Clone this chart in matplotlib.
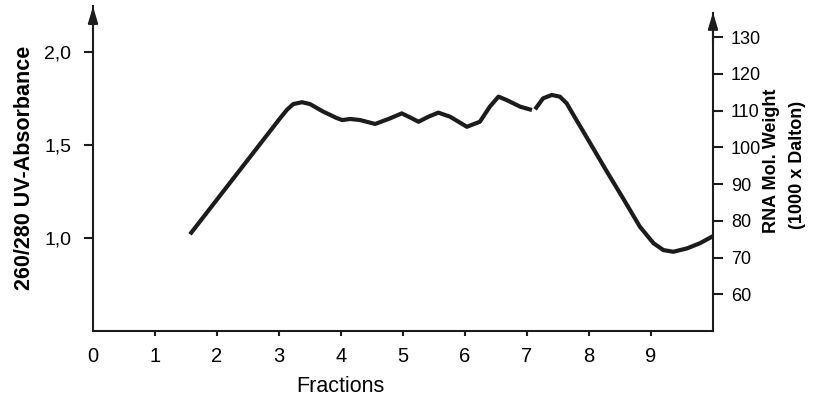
import numpy as np
import matplotlib
matplotlib.use('Agg')
import matplotlib.pyplot as plt

plt.rcParams['font.family'] = ['Liberation Sans', 'DejaVu Sans']

# curve (fraction, 260/280 absorbance); nan = gap in the line
fractions = [1.565, 3.02, 3.13, 3.23, 3.37, 3.50, 3.71, 3.93, 4.02, 4.15, 4.31,
             4.55, 4.79, 4.98, 5.11, 5.25, 5.41, 5.57, 5.76, 6.03, 6.24, 6.40,
             6.54, 6.67, 6.89, 7.08, np.nan,
             7.13, 7.26, 7.40, 7.53, 7.64, 7.75, 8.02, 8.29, 8.55, 8.82, 9.04,
             9.20, 9.36, 9.58, 9.79, 10.0]
absorbance = [1.02, 1.645, 1.69, 1.72, 1.73, 1.72, 1.68, 1.645, 1.634, 1.64, 1.634,
              1.613, 1.643, 1.67, 1.649, 1.625, 1.652, 1.674, 1.652, 1.598, 1.625, 1.706,
              1.76, 1.742, 1.706, 1.688, np.nan,
              1.692, 1.751, 1.769, 1.76, 1.724, 1.661, 1.509, 1.356, 1.213, 1.061, 0.972,
              0.935, 0.926, 0.944, 0.972, 1.01]

x_ticks = [0, 1, 2, 3, 4, 5, 6, 7, 8, 9]
left_ticks = [1.0, 1.5, 2.0]
left_labels = ['1,0', '1,5', '2,0']
right_ticks = [60, 70, 80, 90, 100, 110, 120, 130]

ink = '#1c1c1c'

fig = plt.figure(figsize=(8.15, 4.01), dpi=100)
ax = fig.add_axes([93 / 815, 70 / 401, 620 / 815, 325.5 / 401])
ax2 = ax.twinx()

ax.plot(fractions, absorbance, color=ink, lw=3.0, solid_capstyle='butt',
        solid_joinstyle='round')

ax.set_xlim(0, 10)
ax.set_ylim(0.5, 2.25)
ax2.set_ylim(50, 138.6)

for s in ['top', 'right']:
    ax.spines[s].set_visible(False)
for s in ['top', 'left', 'bottom']:
    ax2.spines[s].set_visible(False)
ax2.spines['right'].set_bounds(50, 136.5)
for sp in [ax.spines['left'], ax.spines['bottom'], ax2.spines['right']]:
    sp.set_linewidth(1.5)
    sp.set_color(ink)

# arrow heads on the vertical axes
ax.annotate('', xy=(0, 2.26), xytext=(0, 2.1), xycoords='data',
            arrowprops=dict(arrowstyle='-|>,head_length=1.0,head_width=0.3',
                            color=ink, lw=1.5), annotation_clip=False)
ax2.annotate('', xy=(10, 137.5), xytext=(10, 128), xycoords='data',
             arrowprops=dict(arrowstyle='-|>,head_length=1.0,head_width=0.3',
                             color=ink, lw=1.5), annotation_clip=False)

ax.set_xticks(x_ticks)
ax.set_xticklabels([str(v) for v in x_ticks])
ax.xaxis.get_major_ticks()[0].tick1line.set_visible(False)
ax.tick_params(axis='x', direction='out', length=3.5, width=1.5, pad=8,
               labelsize=14.5, color=ink)

ax.set_yticks(left_ticks)
ax.set_yticklabels(left_labels)
ax.tick_params(axis='y', direction='out', length=6.5, width=1.5, pad=9,
               labelsize=14, color=ink)

ax2.set_yticks(right_ticks)
ax2.tick_params(axis='y', direction='out', length=7, width=1.5, pad=6,
                labelsize=13, color=ink)

fig.text(340 / 815, 1 - 386 / 401, 'Fractions', fontsize=15.5,
         ha='center', va='center')
fig.text(25 / 815, 1 - 168 / 401, '260/280 UV-Absorbance', fontsize=15.5,
         fontweight='bold', rotation=90, ha='center', va='center')
fig.text(771 / 815, 1 - 161 / 401, 'RNA Mol. Weight', fontsize=13,
         fontweight='bold', rotation=90, ha='center', va='center')
fig.text(797 / 815, 1 - 165 / 401, '(1000 x Dalton)', fontsize=13,
         fontweight='bold', rotation=90, ha='center', va='center')

fig.savefig('out.png', dpi=100)
